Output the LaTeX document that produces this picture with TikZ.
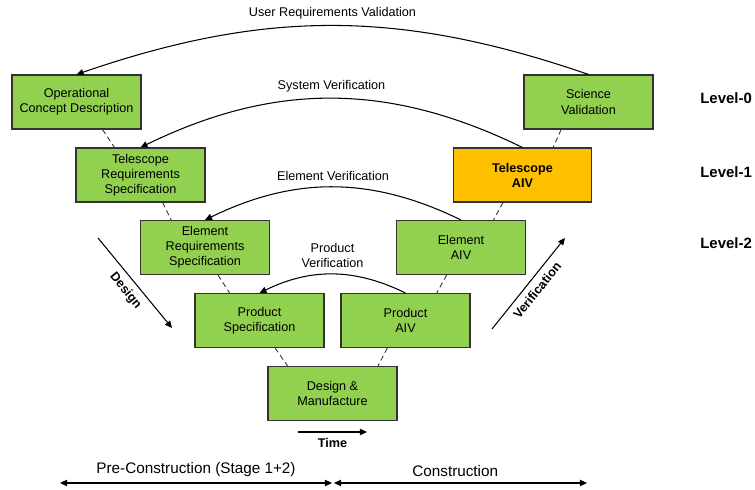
\documentclass[tikz,border=0pt]{standalone}
\usepackage{fontspec}
\setmainfont{Liberation Sans}
\usetikzlibrary{arrows.meta,calc}

\definecolor{boxgreen}{HTML}{92D050}
\definecolor{boxorange}{HTML}{FFC000}

\begin{document}
\begin{tikzpicture}[x=0.02cm,y=0.02cm,
    txt/.style={font=\fontsize{7.2}{8.6}\selectfont},
    tag/.style={font=\fontsize{7.2}{8.6}\selectfont\bfseries},
    lvl/.style={font=\fontsize{8.5}{10}\selectfont\bfseries},
    span/.style={font=\fontsize{8.7}{10}\selectfont},
    stage/.style={txt,draw=black!80,fill=boxgreen,line width=0.6pt,inner sep=1pt,
      minimum width=2.58cm,minimum height=1.08cm,align=center},
    tie/.style={black!80,line width=0.5pt,dash pattern=on 3pt off 2pt},
    feedback/.style={-{Triangle[length=4pt,width=3.6pt]},line width=0.6pt},
    trend/.style={-{Triangle[length=4pt,width=3.6pt]},line width=0.6pt},
    phase/.style={{Triangle[length=4pt,width=3.6pt]}-{Triangle[length=4pt,width=3.6pt]},line width=0.6pt}]
  \useasboundingbox (0,0) rectangle (755,490);

  \def \Stages {
    ops/76.5/388/{Operational\\Concept Description},
    telreq/140.5/315/{Telescope\\Requirements\\Specification},
    elemreq/205/242.5/{Element\\Requirements\\Specification},
    prodspec/259.5/169.5/{Product\\Specification},
    design/332.5/96.5/{Design \&\\Manufacture},
    prodaiv/405.5/169.5/{Product\\AIV},
    elemaiv/461/242.5/{Element\\AIV},
    science/588.5/388/{Science\\Validation}}
  % upper box / point on its bottom edge / lower box / point on its top edge
  \def \Ties {
    ops/0.7/telreq/0.3,
    telreq/0.67/elemreq/0.24,
    elemreq/0.6/prodspec/0.27,
    prodspec/0.62/design/0.155,
    prodaiv/0.36/design/0.85,
    elemaiv/0.39/prodaiv/0.74,
    telaiv/0.36/elemaiv/0.75,
    science/0.29/telaiv/0.72}
  \def \Loops {
    science/ops/19/{User Requirements Validation},
    telaiv/telreq/26/{System Verification},
    elemaiv/elemreq/26/{Element Verification},
    prodaiv/prodspec/26/{Product\\Verification}}

  \foreach \id / \x / \y / \txt in \Stages {
    \node[stage] (\id) at (\x, \y) {\txt};
  }
  \node[stage,tag,fill=boxorange,minimum width=2.76cm] (telaiv) at (522.5, 315) {Telescope\\AIV};

  \foreach \up / \fu / \lo / \fl in \Ties {
    \draw[tie] ($(\up.south west)!\fu!(\up.south east)$) -- ($(\lo.north west)!\fl!(\lo.north east)$);
  }
  \foreach \from / \to / \bend / \txt in \Loops {
    \draw[feedback] (\from.north) to[bend right=\bend]
      node[txt,above,align=center] {\txt} (\to.north);
  }

  % levels
  \node[lvl,anchor=west,inner sep=0pt] (lvl0) at (700, 392) {Level-0};
  \node[lvl,anchor=west,inner sep=0pt] (lvl1) at (700, 318) {Level-1};
  \node[lvl,anchor=west,inner sep=0pt] (lvl2) at (700, 247) {Level-2};

  % design / verification legs
  \coordinate (dtop) at (98, 252);
  \coordinate (dbot) at (172, 162);
  \coordinate (vbot) at (492, 161);
  \coordinate (vtop) at (565, 252);
  \draw[trend] (dtop) -- node[tag,sloped,below] {Design} (dbot);
  \draw[trend] (vbot) -- node[tag,sloped,below] {Verification} (vtop);

  \coordinate (t0) at (298, 58);
  \coordinate (t1) at (367, 58);
  \draw[trend] (t0) -- node[tag,below] {Time} (t1);

  % project phases
  \coordinate (p0) at (60, 7);
  \coordinate (p1) at (332, 7);
  \coordinate (c0) at (334, 7);
  \coordinate (c1) at (587, 7);
  \draw[phase] (p0) -- node[span,above] {Pre-Construction (Stage 1+2)} (p1);
  \draw[phase] (c0) -- node[span,above,xshift=-3pt] {Construction} (c1);
\end{tikzpicture}
\end{document}
